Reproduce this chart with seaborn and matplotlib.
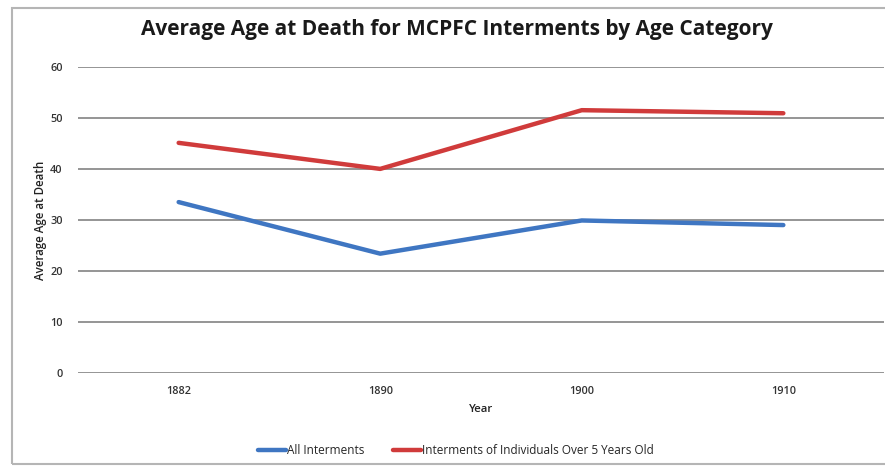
import matplotlib
matplotlib.use("Agg")
import matplotlib.pyplot as plt
from matplotlib.patches import Rectangle
from matplotlib.lines import Line2D
import seaborn as sns
import pandas as pd

years = ["1882", "1890", "1900", "1910"]
all_interments = [33.5, 23.4, 29.9, 29.0]
over_five = [45.1, 40.0, 51.5, 50.9]
series_names = ["All Interments", "Interments of Individuals Over 5 Years Old"]
y_ticks = [0, 10, 20, 30, 40, 50, 60]

df = pd.DataFrame({
    "Year": years * 2,
    "Age": all_interments + over_five,
    "Series": [series_names[0]] * len(years) + [series_names[1]] * len(years),
})

sns.set_theme(style="white")
plt.rcParams["font.family"] = ["Open Sans", "DejaVu Sans"]

palette = {series_names[0]: "#3F76C2", series_names[1]: "#D03B3B"}

fig = plt.figure(figsize=(8.85, 4.67), dpi=100)
ax = fig.add_axes([0.088, 0.201, 0.911, 0.656])

sns.lineplot(data=df, x="Year", y="Age", hue="Series", palette=palette,
             sort=False, linewidth=3.2, ax=ax, legend=False)

ax.set_xlim(-0.5, 3.5)
ax.set_ylim(0, 60)
ax.set_yticks(y_ticks)
ax.yaxis.grid(True, color="#8c8c8c", linewidth=1.3)
ax.xaxis.grid(False)
ax.set_axisbelow(True)
for s in ax.spines.values():
    s.set_visible(False)
ax.tick_params(axis="both", length=0, labelsize=7.8, labelcolor="#333333")
ax.tick_params(axis="y", pad=11)
ax.tick_params(axis="x", pad=9)
for lbl in ax.get_xticklabels() + ax.get_yticklabels():
    lbl.set_fontweight("semibold")

ax.set_xlabel("Year", fontsize=8.2, fontweight="semibold", color="#222222", labelpad=5)
ax.set_ylabel("Average Age at Death", fontsize=8.3, fontweight="semibold",
              color="#222222", labelpad=2)

fig.suptitle("Average Age at Death for MCPFC Interments by Age Category",
             x=0.516, y=0.96, fontsize=15, fontweight="bold", color="#1a1a1a")

handles = [Line2D([0], [0], color=palette[n], linewidth=3.2) for n in series_names]
fig.legend(handles, series_names, loc="center", bbox_to_anchor=(0.515, 0.036),
           ncol=2, frameon=False, fontsize=8.5, handlelength=2.4,
           handletextpad=0.1, columnspacing=2.4)

fig.patches.append(Rectangle((12 / 885, 3 / 467), 885, 456 / 467,
                             transform=fig.transFigure, fill=False,
                             edgecolor="#b5b5b5", linewidth=1.5))

fig.savefig("out.png", dpi=100, facecolor="white")
